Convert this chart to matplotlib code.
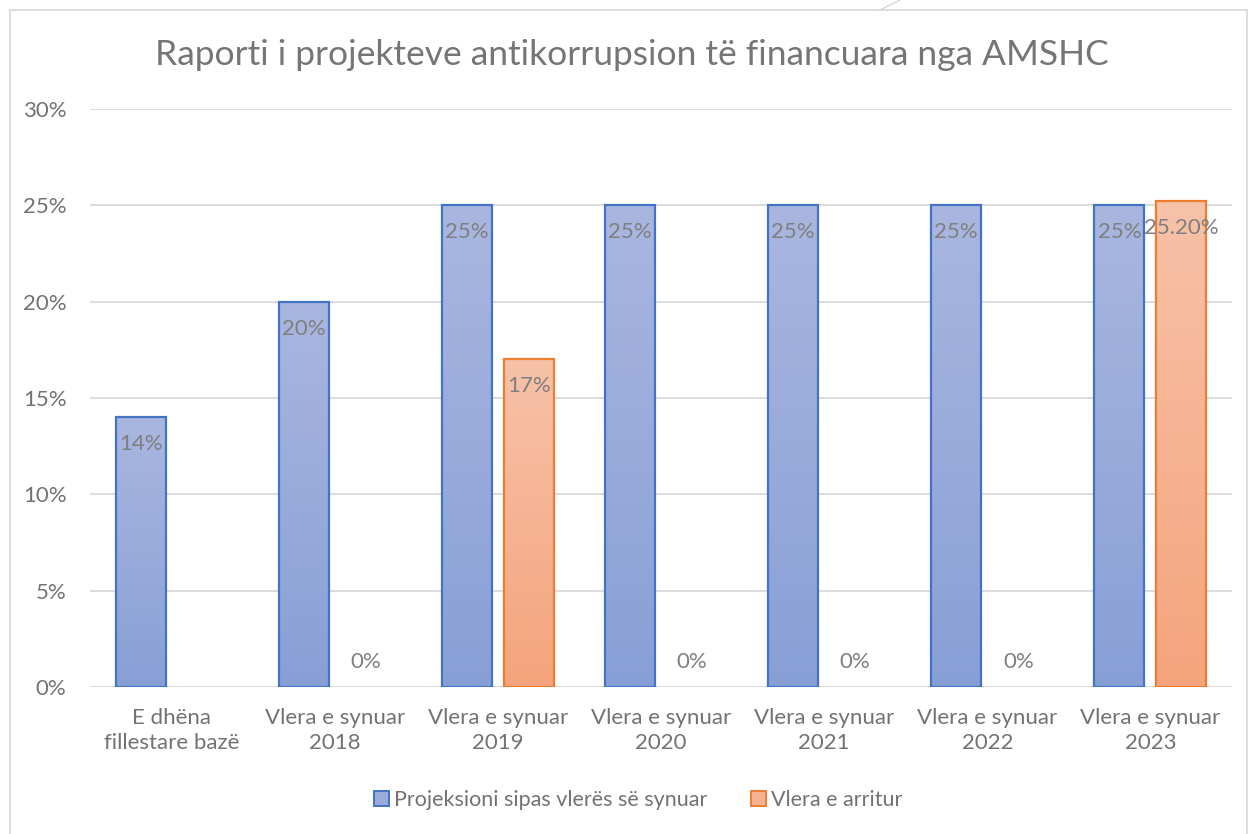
import numpy as np
import matplotlib.pyplot as plt
from matplotlib.patches import Rectangle
from matplotlib.ticker import PercentFormatter

plt.rcParams['font.family'] = ['Lato', 'DejaVu Sans']

categories = ['E dhëna\nfillestare bazë', 'Vlera e synuar\n2018', 'Vlera e synuar\n2019',
              'Vlera e synuar\n2020', 'Vlera e synuar\n2021', 'Vlera e synuar\n2022',
              'Vlera e synuar\n2023']
projected = [14, 20, 25, 25, 25, 25, 25]
achieved = [None, 0, 17, 0, 0, 0, 25.2]
achieved_labels = ['', '0%', '17%', '0%', '0%', '0%', '25.20%']
series_names = ['Projeksioni sipas vlerës së synuar', 'Vlera e arritur']

text_gray = '#767171'
label_gray = '#7F7F7F'
fs = 16


def hex2rgb(h):
    h = h.lstrip('#')
    return [int(h[i:i + 2], 16) / 255 for i in (0, 2, 4)]


def gradient_bars(ax, bars, top, bottom):
    top, bottom = np.array(hex2rgb(top)), np.array(hex2rgb(bottom))
    t = np.linspace(0, 1, 100).reshape(-1, 1, 1)
    img = top + (bottom - top) * t
    for b in bars:
        h = b.get_height()
        if h <= 0:
            continue
        ax.imshow(img, extent=(b.get_x(), b.get_x() + b.get_width(), 0, h),
                  aspect='auto', origin='upper', zorder=2, interpolation='bicubic')


fig = plt.figure(figsize=(12.55, 8.34), dpi=100)
ax = fig.add_axes([90 / 1255, (834 - 687) / 834, (1232 - 90) / 1255, (687 - 109) / 834])

x = np.arange(len(categories))
w = 0.307
off = 0.19
ach_vals = [v if v is not None else 0 for v in achieved]

b1 = ax.bar(x - off, projected, w, facecolor='none', edgecolor='#4472C4', linewidth=1.6, zorder=3)
b2 = ax.bar(x + off, ach_vals, w, facecolor='none', edgecolor='#ED7D31', linewidth=1.6, zorder=3)
for i, v in enumerate(achieved):
    if v is None or v == 0:
        b2[i].set_visible(False)

gradient_bars(ax, b1, '#A9B7E0', '#889FD6')
gradient_bars(ax, b2, '#F7C2A8', '#F5A47D')

for b, v in zip(b1, projected):
    ax.text(b.get_x() + b.get_width() / 2, v - 1.4, f'{v}%', ha='center', va='center',
            fontsize=fs, color=label_gray, zorder=4)
for b, v, lab in zip(b2, ach_vals, achieved_labels):
    if not lab:
        continue
    y = 1.3 if v == 0 else v - 1.4
    ax.text(b.get_x() + b.get_width() / 2, y, lab, ha='center', va='center',
            fontsize=fs, color=label_gray, zorder=4)

ax.set_xlim(-0.5, len(categories) - 0.5)
ax.set_ylim(0, 30)
ax.set_yticks(range(0, 31, 5))
ax.yaxis.set_major_formatter(PercentFormatter(decimals=0))
ax.set_xticks(x)
ax.set_xticklabels(categories, fontsize=fs, color=text_gray, linespacing=1.35)
ax.tick_params(axis='y', labelsize=fs, labelcolor=text_gray, length=0, pad=17)
ax.tick_params(axis='x', length=0, pad=15)
ax.grid(axis='y', color='#D9D9D9', linewidth=1.3, zorder=0)
ax.set_axisbelow(True)
for s in ax.spines.values():
    s.set_visible(False)
ax.axhline(0, color='#D9D9D9', linewidth=1.3, zorder=1)

fig.text(632 / 1255, 1 - 55 / 834, 'Raporti i projekteve antikorrupsion të financuara nga AMSHC',
         ha='center', va='center', fontsize=25.5, color='#757575')

# legend
handles = [Rectangle((0, 0), 1, 1, facecolor='#9AABDB', edgecolor='#4472C4', linewidth=1.4),
           Rectangle((0, 0), 1, 1, facecolor='#F6B393', edgecolor='#ED7D31', linewidth=1.4)]
leg = fig.legend(handles, series_names, loc='center', bbox_to_anchor=(638 / 1255, 1 - 800 / 834),
                 ncol=2, frameon=False, fontsize=15.5, handlelength=0.7, handleheight=0.7,
                 handletextpad=0.25, columnspacing=2.0)
for t in leg.get_texts():
    t.set_color(text_gray)

# chart border
fig.patches.append(Rectangle((10 / 1255, -0.01), (1247 - 10) / 1255, (834 - 10) / 834 + 0.01,
                             transform=fig.transFigure, fill=False, edgecolor='#D9D9D9', linewidth=1.3))
fig.lines.append(plt.Line2D([880 / 1255, 900 / 1255], [1 - 10 / 834, 1.0], transform=fig.transFigure,
                            color='#D9D9D9', linewidth=1))

fig.savefig('out.png', dpi=100)
